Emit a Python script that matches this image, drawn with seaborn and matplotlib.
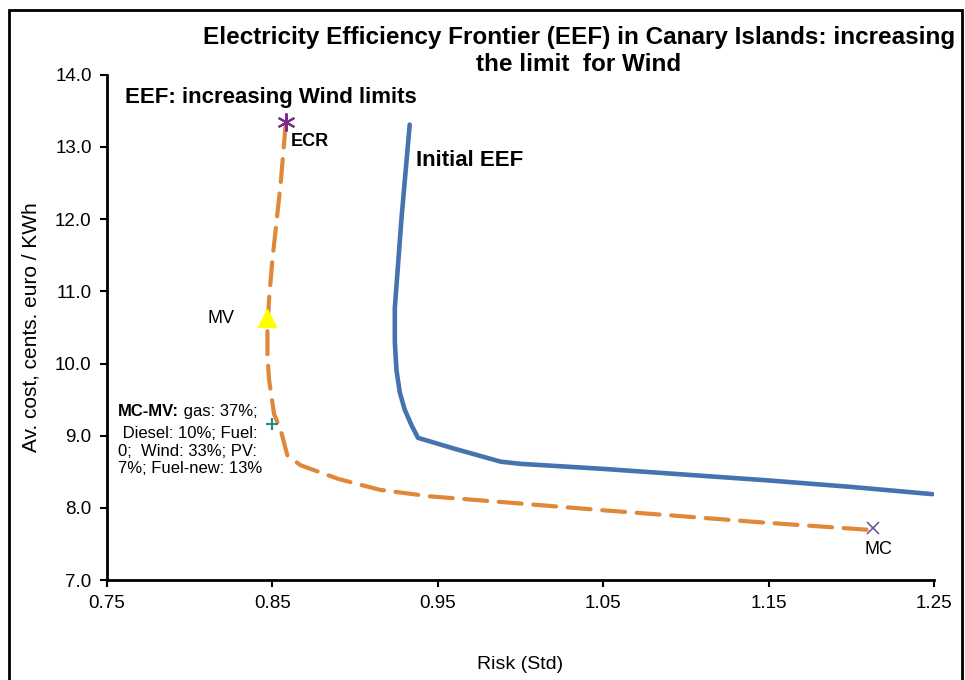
import pandas as pd
import numpy as np
import matplotlib.pyplot as plt
import seaborn as sns
from matplotlib.patches import Rectangle

# Initial efficiency frontier (risk, cost)
initial_risk = [0.933, 0.928, 0.924, 0.924, 0.925, 0.927, 0.930, 0.934, 0.938, 0.960, 0.988, 1.000, 1.050, 1.100, 1.150, 1.200, 1.249]
initial_cost = [13.31, 12.00, 10.77, 10.30, 9.91, 9.60, 9.36, 9.15, 8.97, 8.82, 8.64, 8.61, 8.54, 8.46, 8.38, 8.29, 8.19]

# Frontier with increasing wind limits
wind_risk = [0.858, 0.855, 0.850, 0.848, 0.847, 0.847, 0.848, 0.851, 0.855, 0.859, 0.867, 0.890, 0.915, 0.945, 1.000, 1.048, 1.100, 1.145, 1.214]
wind_cost = [13.31, 12.50, 11.44, 10.90, 10.47, 10.10, 9.77, 9.30, 9.08, 8.73, 8.59, 8.40, 8.25, 8.16, 8.06, 7.97, 7.88, 7.80, 7.69]

# Special portfolios
ecr = (0.858, 13.35)
mv = (0.847, 10.63)
mc_mv = (0.850, 9.16)
mc = (1.213, 7.72)

x_ticks = [0.75, 0.85, 0.95, 1.05, 1.15, 1.25]
y_ticks = [7.0, 8.0, 9.0, 10.0, 11.0, 12.0, 13.0, 14.0]

df_init = pd.DataFrame({'risk': initial_risk, 'cost': initial_cost})
df_wind = pd.DataFrame({'risk': wind_risk, 'cost': wind_cost})

sns.set_style('ticks')
plt.rcParams['font.family'] = ['Liberation Sans', 'DejaVu Sans']
plt.rcParams['text.color'] = 'black'
plt.rcParams['axes.labelcolor'] = 'black'

fig = plt.figure(figsize=(9.65, 6.8), dpi=100)
ax = fig.add_axes([0.1109, 0.147, 0.857, 0.743])

sns.lineplot(data=df_init, x='risk', y='cost', sort=False, estimator=None, ax=ax,
             color='#4673B0', linewidth=3.3)
sns.lineplot(data=df_wind, x='risk', y='cost', sort=False, estimator=None, ax=ax,
             color='#E0883A', linewidth=3.0)
ax.lines[-1].set_dashes([5.5, 2.8])
ax.lines[-1].set_dash_capstyle('round')

ax.plot(*ecr, marker=(6, 2, 0), color='#7B2C8E', markersize=13, linestyle='none',
        markeredgewidth=1.5)
ax.plot(*mv, marker='^', color='#FFFF00', markersize=13, linestyle='none')
ax.plot(*mc_mv, marker='+', color='#1F8A8A', markersize=9, linestyle='none',
        markeredgewidth=1.5)
ax.plot(*mc, marker='x', color='#6A5A9E', markersize=8, linestyle='none',
        markeredgewidth=1.2)

ax.set_xlim(0.75, 1.25)
ax.set_ylim(7.0, 14.0)
ax.set_xticks(x_ticks)
ax.set_xticklabels([f'{v:.2f}' for v in x_ticks])
ax.set_yticks(y_ticks)
ax.set_yticklabels([f'{v:.1f}' for v in y_ticks])
ax.tick_params(direction='out', length=5, width=1.5, labelsize=13.5, colors='black', pad=6)
for s in ['left', 'bottom']:
    ax.spines[s].set_linewidth(2)
    ax.spines[s].set_color('black')
sns.despine(ax=ax)

ax.set_xlabel('Risk (Std)', fontsize=14)
ax.xaxis.set_label_coords(0.5, -0.15)
ax.set_ylabel('Av. cost, cents. euro / KWh', fontsize=15)
ax.yaxis.set_label_coords(-0.08, 0.5)

fig.text(0.60, 0.925, 'Electricity Efficiency Frontier (EEF) in Canary Islands: increasing\nthe limit  for Wind',
         ha='center', va='center', fontsize=17.5, fontweight='bold', linespacing=1.2)

ax.text(0.761, 13.68, 'EEF: increasing Wind limits', fontsize=16, fontweight='bold', va='center')
ax.text(0.937, 12.81, 'Initial EEF', fontsize=16, fontweight='bold', va='center')
ax.text(0.861, 13.08, 'ECR', fontsize=13, fontweight='bold', va='center')
ax.text(0.811, 10.63, 'MV', fontsize=13, va='center')
ax.text(1.208, 7.43, 'MC', fontsize=13, va='center')

t = ax.text(0.7566, 9.33, 'MC-MV:', fontsize=12, fontweight='bold', va='center')
ax.annotate(' gas: 37%;', xy=(1, 0), xycoords=t, fontsize=12, va='bottom')
ax.text(0.7566, 9.13, ' Diesel: 10%; Fuel:\n0;  Wind: 33%; PV:\n7%; Fuel-new: 13%',
        fontsize=12, va='top', linespacing=1.2)

fig.add_artist(Rectangle((9 / 965, -0.02), 953 / 965, 1 - 10 / 680 + 0.02,
                         transform=fig.transFigure, fill=False, edgecolor='black',
                         linewidth=2))

fig.savefig('out.png', dpi=100)
